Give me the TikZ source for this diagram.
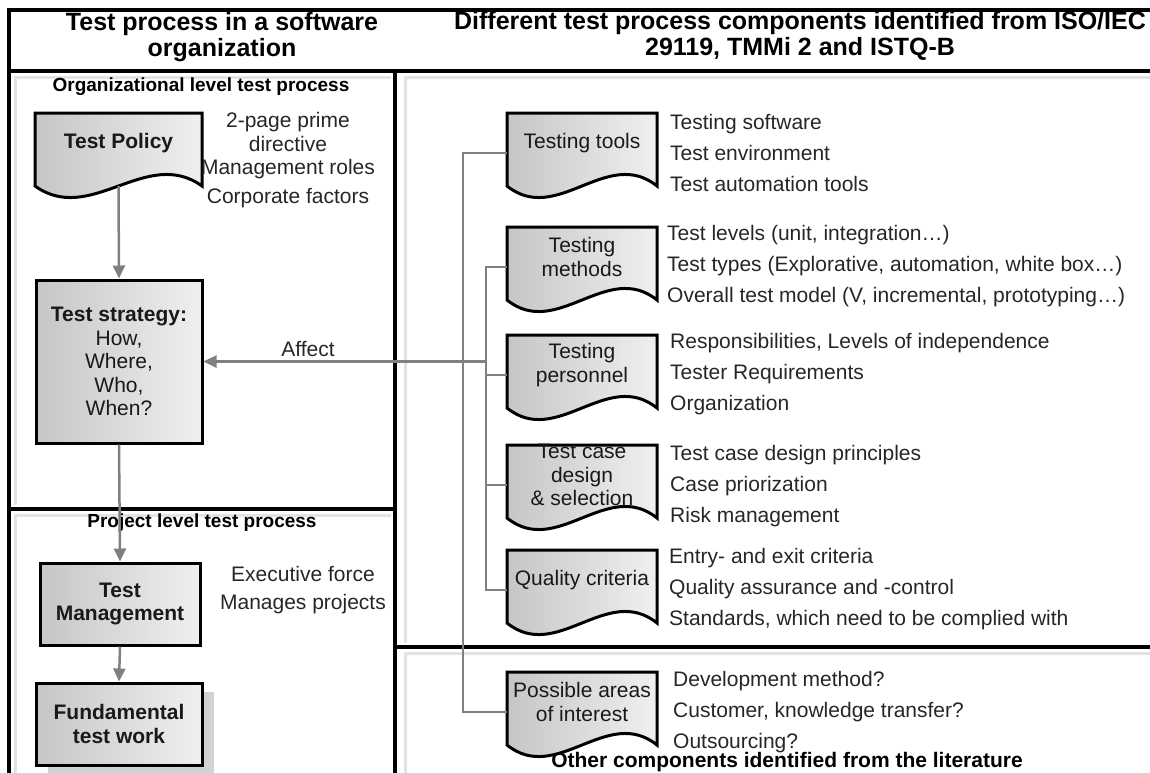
\documentclass[tikz,border=0pt]{standalone}
\usepackage{fontspec}
\setmainfont{Liberation Sans}
\usetikzlibrary{arrows.meta,calc,backgrounds,shadows}

\newcommand{\infofont}{\fontsize{21}{31}\selectfont}
\newcommand{\labfont}{\fontsize{21}{23.5}\selectfont}
\newcommand{\headfont}{\fontsize{25}{26}\selectfont\bfseries}
\newcommand{\subheadfont}{\fontsize{19}{22}\selectfont\bfseries}

\tikzset{
  frame/.style={line width=3.5pt},
  innerline/.style={line width=3pt, gray!22},
  box/.style={draw, line width=3pt, left color=gray!45, right color=gray!12,
    minimum width=166pt, minimum height=82pt, align=center, font=\labfont,
    text=black!90, inner sep=2pt},
  doc/.style={minimum width=150pt, align=center, inner sep=0pt, font=\labfont, text=black!90},
  docfill/.style={left color=gray!45, right color=gray!12},
  docline/.style={draw, line width=3pt},
  note/.style={align=center, font=\labfont, text=black!85},
  info/.style={anchor=west, align=left, font=\infofont, text=black!85, inner sep=0pt},
  flow/.style={draw=gray, line width=2.5pt, -{Triangle[length=13pt, width=12pt]}},
  tree/.style={draw=gray, line width=2pt},
}

% document shape round a named node, #1 = half width
\newcommand{\docshape}[2][75pt]{%
  \begin{scope}[on background layer]
    \path[docfill, docline] ($(#2.center)+(-#1,30pt)$) -- ($(#2.center)+(#1,30pt)$)
      -- ($(#2.center)+(#1,-43pt)$)
      .. controls ($(#2.center)+(#1/3,-3pt)$) and ($(#2.center)+(-#1/3,-83pt)$)
      .. ($(#2.center)+(-#1,-43pt)$) -- cycle;
  \end{scope}}

\begin{document}
\begin{tikzpicture}[x=1pt, y=-1pt]
    \useasboundingbox (0,0) rectangle (1150,772);
    % frame
    \draw[frame] (9,780) -- (9,10) -- (1160,10);
    \draw[frame] (9,71) -- (1160,71);
    \draw[frame] (395,71) -- (395,780);
    \draw[frame] (9,509) -- (395,509);
    \draw[frame] (395,647) -- (1160,647);
    \draw[innerline] (15,505) -- (15,77) -- (391,77);
    \draw[innerline] (15,780) -- (15,515) -- (391,515);
    \draw[innerline] (405,643) -- (405,77) -- (1160,77);
    \draw[innerline] (405,780) -- (405,653) -- (1160,653);
    % headings
    \node[font=\headfont, align=center] (lefthead) at (222,37) {Test process in a software\\organization};
    \node[font=\headfont, align=center] (righthead) at (800,36) {Different test process components identified from ISO/IEC\\29119, TMMi 2 and ISTQ-B};
    \node[font=\subheadfont] (orghead) at (201,87) {Organizational level test process};
    \node[font=\subheadfont] (projhead) at (202,523) {Project level test process};
    \node[font=\labfont\bfseries] (otherhead) at (787,762) {Other components identified from the literature};
    % organizational level
    \node[doc, minimum width=167pt, font=\labfont\bfseries] (policy) at (118.5,143) {Test Policy};
    \docshape[83.5pt]{policy}
    \node[note] (policynote) at (288,160) {2-page prime\\directive\\Management roles\\[5pt]Corporate factors};
    \node[box, minimum height=163pt] (strategy) at (119,361.5) {\textbf{Test strategy:}\\How,\\Where,\\Who,\\When?};
    % project level
    \node[box, minimum width=160pt, font=\labfont\bfseries] (mgmt) at (120,604) {Test\\Management};
    \node[note] (mgmtnote) at (303,590) {Executive force\\[4.5pt]Manages projects};
    \node[box, font=\labfont\bfseries, drop shadow={shadow xshift=12pt, shadow yshift=-9pt, fill=gray!35, opacity=1}] (fundamental) at (119,724) {Fundamental\\test work};
    % components
    \node[doc] (tools) at (582,143) {Testing tools};
    \node[doc] (methods) at (582,257) {Testing\\methods};
    \node[doc] (personnel) at (582,365) {Testing\\personnel};
    \node[doc] (testcase) at (582,475) {Test case\\design\\\& selection};
    \node[doc] (quality) at (582,580) {Quality criteria};
    \node[doc] (possible) at (582,702) {Possible areas\\of interest};
    \foreach \n in {tools,methods,personnel,testcase,quality,possible} {
        \docshape{\n}
        \coordinate (\n-in) at ([yshift=-10pt]\n.west);
    }
    % component lists
    \node[info] (toolsinfo) at (670,152.5) {Testing software\\Test environment\\Test automation tools};
    \node[info] (methodsinfo) at (667,266.5) {Test levels (unit, integration\ldots)\\Test types (Explorative, automation, white box\ldots)\\Overall test model (V, incremental, prototyping\ldots)};
    \node[info] (personnelinfo) at (670,374) {Responsibilities, Levels of independence\\Tester Requirements\\Organization};
    \node[info] (testcaseinfo) at (670,486) {Test case design principles\\Case priorization\\Risk management};
    \node[info] (qualityinfo) at (669,589) {Entry- and exit criteria\\Quality assurance and -control\\Standards, which need to be complied with};
    \node[info] (possibleinfo) at (673,712) {Development method?\\Customer, knowledge transfer?\\Outsourcing?};
    % connectors
    \coordinate (busA) at (463,0);
    \coordinate (busB) at (486,0);
    \draw[tree] (tools-in) -- (tools-in -| busA) -- (possible-in -| busA) -- (possible-in);
    \draw[tree] (methods-in) -- (methods-in -| busB) -- (quality-in -| busB) -- (quality-in);
    \foreach \n in {personnel,testcase}
        \draw[tree] (\n-in) -- (\n-in -| busB);
    \draw[flow] (strategy.east -| busB) -- (strategy.east)
        node[pos=0.63, above, font=\labfont, text=black!85] (affect) {Affect};
    \draw[flow] ([yshift=-43pt]policy.center) -- (strategy.north);
    \draw[flow] (strategy.south) -- (mgmt.north);
    \draw[flow] (mgmt.south) -- (fundamental.north);
\end{tikzpicture}
\end{document}
